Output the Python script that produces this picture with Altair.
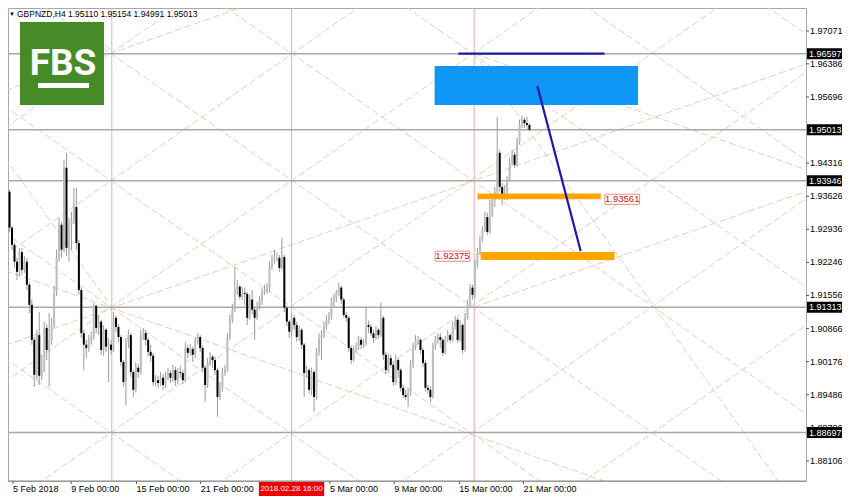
import altair as alt
import pandas as pd

# ---------------- data ----------------
first_open = 1.9324
close = [1.9372,1.9297,1.9261,1.9226,1.9205,1.9246,1.9209,1.9226,1.9178,1.9136,
         1.9063,1.8990,1.9073,1.8988,1.9000,1.9088,1.9042,1.9063,1.9094,1.9163,
         1.9234,1.9303,1.9251,1.9422,1.9255,1.9303,1.9313,1.9340,1.9265,1.9167,
         1.9077,1.9053,1.9046,1.9063,1.9069,1.9134,1.9088,1.9101,1.9042,1.9084,
         1.9049,1.9053,1.9042,1.9109,1.9090,1.9069,1.9017,1.8975,1.9059,1.9073,
         1.8996,1.8959,1.9005,1.8996,1.9073,1.9077,1.9063,1.9038,1.9030,1.8975,
         1.8979,1.8973,1.8984,1.8969,1.8988,1.8994,1.8984,1.9000,1.8979,1.8996,
         1.8994,1.8979,1.9046,1.9036,1.9044,1.9032,1.9059,1.9069,1.9046,1.9005,
         1.8969,1.9015,1.9028,1.9021,1.9000,1.8944,1.8963,1.8994,1.9000,1.9067,
         1.9105,1.9126,1.9167,1.9174,1.9153,1.9161,1.9159,1.9109,1.9147,1.9126,
         1.9109,1.9132,1.9147,1.9163,1.9167,1.9172,1.9215,1.9230,1.9234,1.9234,
         1.9213,1.9236,1.9130,1.9101,1.9080,1.9109,1.9094,1.9069,1.9084,1.9053,
         1.8994,1.9000,1.8959,1.8996,1.8944,1.9038,1.9067,1.9073,1.9090,1.9105,
         1.9111,1.9140,1.9151,1.9161,1.9172,1.9147,1.9115,1.9109,1.9046,1.9021,
         1.9042,1.9049,1.9063,1.9053,1.9057,1.9094,1.9090,1.9077,1.9067,1.9084,
         1.9073,1.9109,1.9032,1.9000,1.9025,1.9011,1.8975,1.9021,1.9000,1.8963,
         1.8948,1.8944,1.8953,1.9011,1.9049,1.9063,1.9063,1.9042,1.9015,1.8963,
         1.8959,1.8944,1.9049,1.9063,1.9069,1.9063,1.9036,1.9063,1.9073,1.9063,
         1.9090,1.9105,1.9063,1.9094,1.9042,1.9109,1.9136,1.9172,1.9157,1.9219,
         1.9244,1.9272,1.9292,1.9319,1.9288,1.9324,1.9355,1.9372,1.9453,1.9382,
         1.9365,1.9361,1.9397,1.9432,1.9449,1.9428,1.9474,1.9511,1.9522,1.9515,
         1.95110,1.95013]
high = [1.9382,1.9376,1.9301,1.9265,1.9234,1.9255,1.9255,1.9238,1.9234,1.9184,
        1.9147,1.9069,1.9084,1.9121,1.9032,1.9101,1.9096,1.9119,1.9109,1.9176,
        1.9251,1.9317,1.9309,1.9438,1.9453,1.9317,1.9330,1.9380,1.9380,1.9272,
        1.9172,1.9084,1.9063,1.9073,1.9080,1.9140,1.9136,1.9115,1.9105,1.9094,
        1.9088,1.9067,1.9063,1.9121,1.9113,1.9096,1.9073,1.9021,1.9067,1.9084,
        1.9077,1.9000,1.9017,1.9013,1.9084,1.9088,1.9084,1.9067,1.9053,1.9036,
        1.8990,1.8988,1.8996,1.8992,1.8996,1.9005,1.9000,1.9011,1.9007,1.9005,
        1.9009,1.9000,1.9059,1.9053,1.9055,1.9049,1.9067,1.9077,1.9073,1.9051,
        1.9009,1.9025,1.9038,1.9032,1.9028,1.9005,1.8975,1.9005,1.9011,1.9077,
        1.9115,1.9138,1.9215,1.9188,1.9178,1.9174,1.9172,1.9163,1.9157,1.9167,
        1.9132,1.9142,1.9155,1.9172,1.9178,1.9182,1.9226,1.9240,1.9251,1.9246,
        1.9240,1.9276,1.9240,1.9134,1.9105,1.9117,1.9115,1.9101,1.9092,1.9088,
        1.9057,1.9009,1.9005,1.9005,1.9000,1.9046,1.9077,1.9084,1.9101,1.9115,
        1.9121,1.9151,1.9159,1.9167,1.9182,1.9176,1.9151,1.9121,1.9113,1.9051,
        1.9051,1.9057,1.9071,1.9069,1.9065,1.9132,1.9103,1.9096,1.9084,1.9092,
        1.9088,1.9140,1.9113,1.9038,1.9034,1.9032,1.9017,1.9032,1.9025,1.9005,
        1.8969,1.8959,1.8961,1.9021,1.9057,1.9073,1.9071,1.9067,1.9046,1.9021,
        1.8969,1.8967,1.9057,1.9071,1.9077,1.9077,1.9067,1.9071,1.9084,1.9077,
        1.9101,1.9113,1.9109,1.9105,1.9098,1.9119,1.9147,1.9180,1.9178,1.9230,
        1.9255,1.9280,1.9301,1.9330,1.9328,1.9355,1.9363,1.9382,1.9528,1.9459,
        1.9390,1.9386,1.9405,1.9443,1.9459,1.9455,1.9484,1.9522,1.9530,1.9526,
        1.9528,1.95154]
low = [1.9319,1.9288,1.9251,1.9213,1.9188,1.9196,1.9198,1.9203,1.9167,1.9119,
       1.9053,1.8965,1.8979,1.8969,1.8979,1.8996,1.9021,1.8965,1.9053,1.9088,
       1.9155,1.9226,1.9234,1.9246,1.9238,1.9226,1.9251,1.9305,1.9251,1.9157,
       1.9067,1.9000,1.9025,1.9038,1.9053,1.9063,1.9077,1.9073,1.9032,1.9030,
       1.9038,1.8975,1.9032,1.9038,1.9080,1.9059,1.9009,1.8965,1.8927,1.9046,
       1.8986,1.8944,1.8953,1.8984,1.8990,1.9063,1.9051,1.9028,1.9017,1.8967,
       1.8967,1.8963,1.8967,1.8959,1.8963,1.8979,1.8973,1.8975,1.8967,1.8971,
       1.8984,1.8971,1.8975,1.9025,1.9030,1.9017,1.9025,1.9053,1.9038,1.8996,
       1.8934,1.8963,1.9009,1.9005,1.8990,1.8903,1.8938,1.8955,1.8988,1.8996,
       1.9063,1.9098,1.9121,1.9157,1.9147,1.9147,1.9136,1.9094,1.9105,1.9117,
       1.9063,1.9105,1.9126,1.9136,1.9157,1.9159,1.9163,1.9209,1.9222,1.9226,
       1.9205,1.9209,1.9121,1.9092,1.9067,1.9071,1.9084,1.9059,1.9061,1.9044,
       1.8944,1.8984,1.8951,1.8948,1.8913,1.8938,1.9030,1.9021,1.9067,1.9084,
       1.9096,1.9105,1.9132,1.9142,1.9155,1.9138,1.9109,1.9101,1.9038,1.9013,
       1.9017,1.9036,1.9042,1.9044,1.9046,1.9051,1.9077,1.9071,1.9057,1.9063,
       1.9065,1.9069,1.9021,1.8992,1.8994,1.9005,1.8967,1.8969,1.8984,1.8955,
       1.8942,1.8938,1.8923,1.8946,1.9005,1.9042,1.9053,1.9034,1.9007,1.8955,
       1.8951,1.8932,1.8940,1.9042,1.9055,1.9046,1.9030,1.9032,1.9059,1.9057,
       1.9059,1.9084,1.9057,1.9059,1.9034,1.9038,1.9105,1.9130,1.9147,1.9151,
       1.9213,1.9240,1.9267,1.9288,1.9282,1.9284,1.9319,1.9340,1.9365,1.9372,
       1.9344,1.9355,1.9355,1.9393,1.9426,1.9422,1.9424,1.9470,1.9505,1.9505,
       1.9507,1.94991]

# horizontal price levels (with black price boxes)
level_prices = [1.96597, 1.95013, 1.93946, 1.91313, 1.88697]
# regular axis labels
axis_ticks = [1.97071, 1.96386, 1.95696, 1.94316, 1.93626, 1.92936, 1.92246,
              1.91556, 1.90866, 1.90176, 1.89486, 1.88796, 1.88106]
# vertical separator lines (bar index)
vline_bars = [42.3, 114.9, 188.7]
# time labels (bar index where text starts)
date_bars = [2.4, 25.9, 52.3, 78.2, 130.4, 156.4, 182.7, 208.6]
date_text = ["5 Feb 2018", "9 Feb 00:00", "15 Feb 00:00", "21 Feb 00:00",
             "5 Mar 00:00", "9 Mar 00:00", "15 Mar 00:00", "21 Mar 00:00"]
cursor_bar = 114.9
cursor_text = "2018.02.28 16:00"

# target zone (blue box)
zone_bar = [172.7, 254.9]
zone_price = [1.96341, 1.95528]
# navy lines
navy_x1 = [182.3, 214.2]
navy_p1 = [1.96597, 1.95924]
navy_x2 = [241.3, 231.7]
navy_p2 = [1.96597, 1.92484]
# orange support levels
orange_x1 = [190.0, 191.3]
orange_x2 = [239.8, 245.4]
orange_lo = [1.93561, 1.92296]
orange_hi = [1.93682, 1.92463]
# price tags
tag_bar = [248.5, 179.9]
tag_price = [1.93561, 1.92375]
tag_text = ["1.93561", "1.92375"]

# gann grid (1x1) lines and 1x2 / 2x1 fan lines (bar index / price)
gann_x1 = [-31]*15 + [-0.8, 25.7, -0.8, -0.8, -0.8, 188.7, 188.7, 188.7]
gann_x2 = [334]*15 + [118.9, 42.3, 42.3, 322.3, 322.3, 322.3, 322.3, 311.5]
gann_p1 = [1.9134, 1.9395, 1.9659, 1.9924, 2.0188, 2.0452, 2.0716, 2.0980,
           1.9396, 1.9131, 1.8867, 1.8606, 1.8342, 1.8078, 1.7814,
           1.95830, 1.97821, 1.94423, 1.92077, 1.90513, 1.96597, 1.91313, 1.96597]
gann_p2 = [1.7814, 1.8075, 1.8339, 1.8604, 1.8868, 1.9132, 1.9396, 1.9660,
           2.0716, 2.0451, 2.0187, 1.9926, 1.9662, 1.9398, 1.9134,
           1.98001, 1.96597, 1.91313, 1.86216, 1.96375, 1.94189, 1.93718, 1.87688]

header_text = "GBPNZD,H4  1.95110 1.95154 1.94991 1.95013"

# ---------------- layout ----------------
W, H = 798, 473
bar_px = 2.507
x0 = 6 / bar_px
xdom = [x0, x0 + W / bar_px]
ydom = [1.87688, 1.97550]

xs = alt.Scale(domain=xdom, nice=False, zero=False)
ys = alt.Scale(domain=ydom, nice=False, zero=False)

n = len(close)
opens = [first_open] + close[:-1]
df = pd.DataFrame({"i": list(range(n)), "o": opens, "h": high, "l": low, "c": close})
df["dir"] = ["up" if c >= o else "down" for o, c in zip(df.o, df.c)]

X = alt.X("i:Q", scale=xs, axis=None)
FONT = "Liberation Sans"

base = alt.Chart(df)

gann = alt.Chart(pd.DataFrame({"x1": gann_x1, "x2": gann_x2, "p1": gann_p1, "p2": gann_p2})).mark_rule(
    color="#dcd2b4", strokeWidth=1, strokeDash=[7, 3], clip=True
).encode(x=alt.X("x1:Q", scale=xs, axis=None), x2="x2:Q",
         y=alt.Y("p1:Q", scale=ys, axis=None), y2="p2:Q")

hl = alt.Chart(pd.DataFrame({"p": level_prices})).mark_rule(color="#a9a9a9", strokeWidth=1.5).encode(
    y=alt.Y("p:Q", scale=ys, axis=None))

vl = alt.Chart(pd.DataFrame({"b": vline_bars})).mark_rule(color="#eeaab2", strokeWidth=1).encode(
    x=alt.X("b:Q", scale=xs, axis=None))

zone = alt.Chart(pd.DataFrame({"a": [zone_bar[0]], "b": [zone_bar[1]],
                               "p1": [zone_price[0]], "p2": [zone_price[1]]})).mark_rect(
    color="#0f97f5").encode(x=alt.X("a:Q", scale=xs, axis=None), x2="b:Q",
                            y=alt.Y("p1:Q", scale=ys, axis=None), y2="p2:Q")

wick = base.mark_rule(color="#9a9a9a", strokeWidth=1, clip=True).encode(
    x=X, y=alt.Y("l:Q", scale=ys, axis=None), y2="h:Q")
body = base.mark_bar(size=2, clip=True).encode(
    x=X, y=alt.Y("o:Q", scale=ys, axis=None), y2="c:Q",
    color=alt.Color("dir:N", scale=alt.Scale(domain=["up", "down"], range=["#bdbdbd", "#000000"]),
                    legend=None))

orange = alt.Chart(pd.DataFrame({"a": orange_x1, "b": orange_x2, "lo": orange_lo, "hi": orange_hi})).mark_rect(
    color="#ffa500").encode(x=alt.X("a:Q", scale=xs, axis=None), x2="b:Q",
                            y=alt.Y("lo:Q", scale=ys, axis=None), y2="hi:Q")

navy = alt.Chart(pd.DataFrame({"x1": navy_x1, "x2": navy_x2, "p1": navy_p1, "p2": navy_p2})).mark_rule(
    color="#1a1aa8", strokeWidth=2.2).encode(x=alt.X("x1:Q", scale=xs, axis=None), x2="x2:Q",
                                             y=alt.Y("p1:Q", scale=ys, axis=None), y2="p2:Q")

tags = pd.DataFrame({"b": tag_bar, "p": tag_price, "t": tag_text})
tags["b1"] = tags.b - 7
tags["b2"] = tags.b + 7
tags["p1"] = tags.p - 0.00105
tags["p2"] = tags.p + 0.00105
tag_box = alt.Chart(tags).mark_rect(fill="white", stroke="#e88a8a", strokeWidth=1).encode(
    x=alt.X("b1:Q", scale=xs, axis=None), x2="b2:Q", y=alt.Y("p1:Q", scale=ys, axis=None), y2="p2:Q")
tag_txt = alt.Chart(tags).mark_text(font=FONT, fontSize=9.5, color="#cc1010").encode(
    x=alt.X("b:Q", scale=xs, axis=None), y=alt.Y("p:Q", scale=ys, axis=None), text="t:N")

# right price scale: regular labels
ax = pd.DataFrame({"p": axis_ticks, "t": [f"{v:.5f}" for v in axis_ticks]})
ax_tick = alt.Chart(ax).mark_rule(color="#555").encode(
    x=alt.value(W), x2=alt.value(W + 3), y=alt.Y("p:Q", scale=ys, axis=None))
ax_txt = alt.Chart(ax).mark_text(font=FONT, fontSize=9, color="#000", align="left").encode(
    x=alt.value(W + 4), y=alt.Y("p:Q", scale=ys, axis=None), text="t:N")

# price boxes on right axis
lv = pd.DataFrame({"p": level_prices, "t": [f"{v:.5f}" for v in level_prices]})
lv_box = alt.Chart(lv).mark_tick(orient="horizontal", size=36, thickness=11, color="#000", opacity=1).encode(
    x=alt.value(W + 19), y=alt.Y("p:Q", scale=ys, axis=None))
lv_txt = alt.Chart(lv).mark_text(font=FONT, fontSize=9, color="white", align="left").encode(
    x=alt.value(W + 3), y=alt.Y("p:Q", scale=ys, axis=None), text="t:N")

# bottom time labels
dl = pd.DataFrame({"b": date_bars, "t": date_text})
date_txt = alt.Chart(dl).mark_text(font=FONT, fontSize=9, color="#000", align="left",
                                   baseline="middle").encode(
    x=alt.X("b:Q", scale=xs, axis=None), y=alt.value(H + 8), text="t:N")
date_tick = alt.Chart(dl).mark_rule(color="#555").encode(
    x=alt.X("b:Q", scale=xs, axis=None), y=alt.value(H), y2=alt.value(H + 3))
cur = pd.DataFrame({"b": [cursor_bar], "t": [cursor_text]})
cur["b1"] = cur.b - 13.2
cur["b2"] = cur.b + 13.2
cur_box = alt.Chart(cur).mark_rect(color="#ee0000").encode(
    x=alt.X("b1:Q", scale=xs, axis=None), x2="b2:Q", y=alt.value(H + 1), y2=alt.value(H + 15))
cur_txt = alt.Chart(cur).mark_text(font=FONT, fontSize=8, color="white", baseline="middle").encode(
    x=alt.X("b:Q", scale=xs, axis=None), y=alt.value(H + 8), text="t:N")
bottom_line = alt.Chart(cur).mark_rule(color="#888").encode(x=alt.value(0), x2=alt.value(W), y=alt.value(H))

# header and logo
hdr = alt.Chart(pd.DataFrame({"t": [header_text]})).mark_text(
    font=FONT, fontSize=8.5, color="#000", align="left", baseline="middle").encode(
    x=alt.value(9), y=alt.value(6), text="t:N")
arrow = alt.Chart(pd.DataFrame({"t": ["\u25bc"]})).mark_text(fontSize=6, color="#000", baseline="middle").encode(
    x=alt.value(4), y=alt.value(6), text="t:N")
logo = alt.Chart(pd.DataFrame({"t": ["FBS"]})).mark_rect(color="#478b29").encode(
    x=alt.value(12), x2=alt.value(96), y=alt.value(14), y2=alt.value(97))
logo_bar = alt.Chart(pd.DataFrame({"t": ["FBS"]})).mark_rect(color="white").encode(
    x=alt.value(30), x2=alt.value(81), y=alt.value(75), y2=alt.value(80))
logo_txt = alt.Chart(pd.DataFrame({"t": ["FBS"]})).mark_text(
    font="Roboto", fontWeight="bold", fontSize=37, color="white", baseline="middle").encode(
    x=alt.value(55), y=alt.value(56), text="t:N")

chart = alt.layer(
    gann, vl, hl, zone, wick, body, orange, navy, tag_box, tag_txt,
    ax_tick, ax_txt, lv_box, lv_txt, date_tick, date_txt, cur_box, cur_txt, bottom_line,
    logo, logo_bar, logo_txt, hdr, arrow
).properties(
    width=W, height=H,
    autosize=alt.AutoSizeParams(type="none"),
    padding={"left": 0, "top": 0, "right": 36, "bottom": 16},
    background="white"
).configure_view(stroke="#a8a8a8")

chart.save("out.html", embed_options={"renderer": "svg", "actions": False})
